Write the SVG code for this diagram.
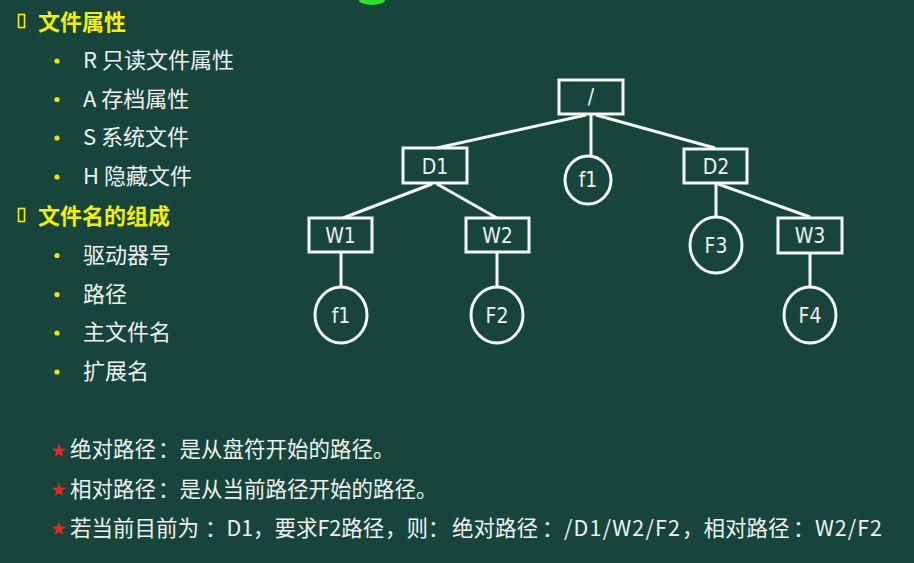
<svg xmlns="http://www.w3.org/2000/svg" xmlns:xlink="http://www.w3.org/1999/xlink" width="914" height="563" viewBox="0 0 914 563">
  <style>
    .head { font-family: "Noto Sans CJK SC", "Liberation Sans", sans-serif; font-size: 22px; font-weight: bold; fill: #f4f000; }
    .item { font-family: "Noto Sans CJK SC", "Liberation Sans", sans-serif; font-size: 22px; fill: #eef2ee; }
    .note { font-family: "Noto Sans CJK SC", "Liberation Sans", sans-serif; font-size: 21.5px; fill: #eef2ee; }
    .dot { fill: #f2e600; }
    .box { fill: none; stroke: #f4f6f2; stroke-width: 3; }
    .lbl { font-family: "DejaVu Sans Condensed", "Liberation Sans", sans-serif; font-size: 21px; fill: #eef2ee; text-anchor: middle; }
    .edge { stroke: #f4f6f2; stroke-width: 3; fill: none; }
  </style>
  <defs>
    <path id="star" d="M0,-7.5 L1.76,-2.43 L7.13,-2.32 L2.85,0.93 L4.41,6.07 L0,3 L-4.41,6.07 L-2.85,0.93 L-7.13,-2.32 L-1.76,-2.43 Z" fill="#e8281e"/>
  </defs>

  <!-- board background -->
  <rect x="0" y="0" width="914" height="563" fill="#17453c"/>
  <!-- green marker at the top edge -->
  <ellipse cx="372" cy="0" rx="13" ry="5" fill="#2ee02a"/>

  <!-- left-hand list -->
  <g id="list-attributes">
    <rect x="18.5" y="14.5" width="6" height="13" fill="none" stroke="#f4f000" stroke-width="1.6"/>
    <text class="head" x="38" y="30">文件属性</text>
    <circle class="dot" cx="57" cy="61" r="2.6"/>
    <text class="item" x="83" y="68">R 只读文件属性</text>
    <circle class="dot" cx="57" cy="99.5" r="2.6"/>
    <text class="item" x="83" y="106.5">A 存档属性</text>
    <circle class="dot" cx="57" cy="138" r="2.6"/>
    <text class="item" x="83" y="145">S 系统文件</text>
    <circle class="dot" cx="57" cy="177" r="2.6"/>
    <text class="item" x="83" y="184">H 隐藏文件</text>
  </g>
  <g id="list-filename">
    <rect x="18.5" y="208.5" width="6" height="13" fill="none" stroke="#f4f000" stroke-width="1.6"/>
    <text class="head" x="38" y="224">文件名的组成</text>
    <circle class="dot" cx="57" cy="255.5" r="2.6"/>
    <text class="item" x="83" y="263">驱动器号</text>
    <circle class="dot" cx="57" cy="294.5" r="2.6"/>
    <text class="item" x="83" y="302">路径</text>
    <circle class="dot" cx="57" cy="333" r="2.6"/>
    <text class="item" x="83" y="340">主文件名</text>
    <circle class="dot" cx="57" cy="372" r="2.6"/>
    <text class="item" x="83" y="379">扩展名</text>
  </g>

  <!-- tree connectors -->
  <g id="connectors">
    <line class="edge" x1="586" y1="115" x2="437" y2="148"/>
    <line class="edge" x1="591" y1="115" x2="591" y2="157"/>
    <line class="edge" x1="596" y1="115" x2="715" y2="148"/>
    <line class="edge" x1="432" y1="184" x2="343" y2="218"/>
    <line class="edge" x1="437" y1="184" x2="497" y2="218"/>
    <line class="edge" x1="341" y1="253" x2="341" y2="287"/>
    <line class="edge" x1="497" y1="253" x2="497" y2="287"/>
    <line class="edge" x1="716" y1="184" x2="716" y2="217"/>
    <line class="edge" x1="718" y1="184" x2="810" y2="217"/>
    <line class="edge" x1="810" y1="254" x2="810" y2="287"/>
  </g>

  <!-- tree nodes -->
  <g id="root">
    <rect class="box" x="559" y="80" width="64" height="34"/>
    <text class="lbl" x="591" y="104">/</text>
  </g>
  <g id="D1">
    <rect class="box" x="403" y="148" width="64" height="35"/>
    <text class="lbl" x="435" y="174">D1</text>
  </g>
  <g id="f1-root">
    <ellipse class="box" cx="588" cy="180" rx="23" ry="24"/>
    <text class="lbl" x="588" y="187">f1</text>
  </g>
  <g id="D2">
    <rect class="box" x="684" y="149" width="63" height="34"/>
    <text class="lbl" x="716" y="174">D2</text>
  </g>
  <g id="W1">
    <rect class="box" x="309" y="218" width="63" height="34"/>
    <text class="lbl" x="340.5" y="243">W1</text>
  </g>
  <g id="W2">
    <rect class="box" x="466" y="218" width="63" height="34"/>
    <text class="lbl" x="497.5" y="243">W2</text>
  </g>
  <g id="F3">
    <ellipse class="box" cx="716" cy="245" rx="26" ry="28"/>
    <text class="lbl" x="716" y="253">F3</text>
  </g>
  <g id="W3">
    <rect class="box" x="778" y="218" width="64" height="35"/>
    <text class="lbl" x="810" y="243">W3</text>
  </g>
  <g id="f1-W1">
    <ellipse class="box" cx="341" cy="315" rx="26" ry="28"/>
    <text class="lbl" x="341" y="323">f1</text>
  </g>
  <g id="F2">
    <ellipse class="box" cx="497" cy="315" rx="26" ry="28"/>
    <text class="lbl" x="497" y="323">F2</text>
  </g>
  <g id="F4">
    <ellipse class="box" cx="810" cy="315" rx="26" ry="28"/>
    <text class="lbl" x="810" y="323">F4</text>
  </g>

  <!-- notes -->
  <g id="notes">
    <use xlink:href="#star" x="59" y="451"/>
    <text class="note" y="457"><tspan x="70">绝对路径</tspan><tspan x="158">：是从盘符开始的路径。</tspan></text>
    <use xlink:href="#star" x="59" y="490"/>
    <text class="note" y="497"><tspan x="70">相对路径</tspan><tspan x="158">：是从当前路径开始的路径。</tspan></text>
    <use xlink:href="#star" x="59" y="529"/>
    <text class="note" y="536"><tspan x="70">若当前目前为</tspan><tspan x="205">：D1</tspan><tspan x="253">，要求F2路径</tspan><tspan x="385">，则：</tspan><tspan x="452">绝对路径</tspan><tspan x="542">：</tspan><tspan x="564" textLength="116">/D1/W2/F2</tspan><tspan x="682">，相对路径</tspan><tspan x="793">：</tspan><tspan x="815" textLength="67">W2/F2</tspan></text>
  </g>
</svg>
